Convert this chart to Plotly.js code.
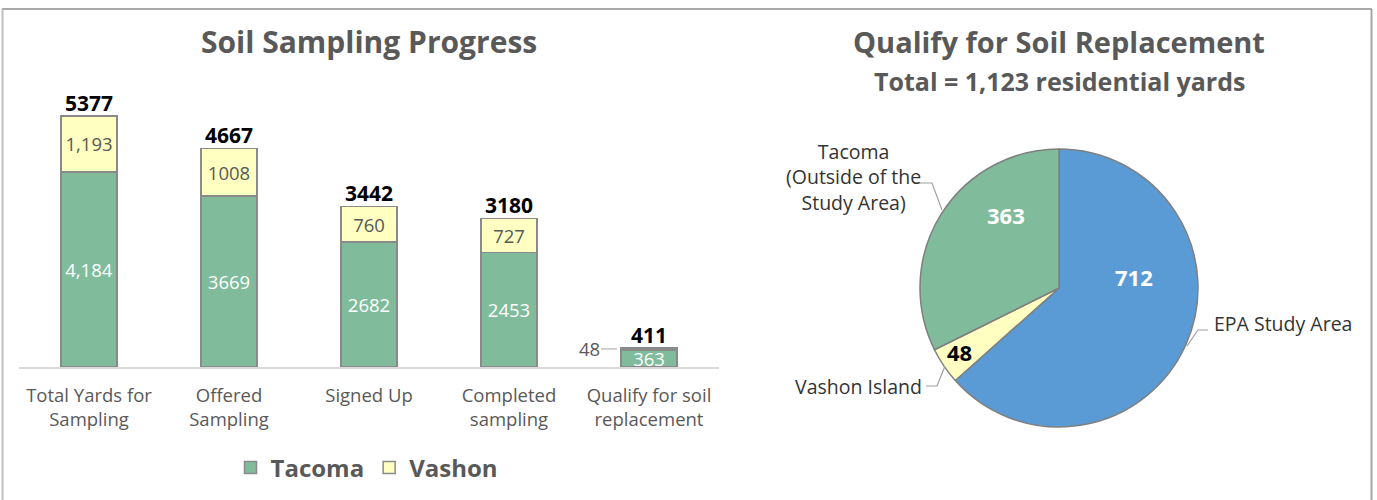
<!DOCTYPE html>
<html>
<head>
<meta charset="utf-8">
<script src="https://cdn.plot.ly/plotly-3.0.1.min.js"></script>
<style>html,body{margin:0;padding:0;background:#fff}#chart{width:1377px;height:500px}</style>
</head>
<body>
<div id="chart"></div>
<script>
// ---- data ----
const categories = ["Total Yards for<br>Sampling", "Offered<br>Sampling", "Signed Up", "Completed<br>sampling", "Qualify for soil<br>replacement"];
const tacomaValues = [4184, 3669, 2682, 2453, 363];
const tacomaLabels = ["4,184", "3669", "2682", "2453", "363"];
const vashonValues = [1193, 1008, 760, 727, 48];
const vashonLabels = ["1,193", "1008", "760", "727", "48"];
const totalLabels = ["5377", "4667", "3442", "3180", "411"];

const pieLabels = ["EPA Study Area", "Vashon Island", "Tacoma<br>(Outside of the<br>Study Area)"];
const pieValues = [712, 48, 363];

// ---- helpers (pixel -> paper) ----
const W = 1377, H = 500;
const px = x => x / W;
const py = y => 1 - y / H;

const FONT = "'Open Sans', Lato, sans-serif";
const GREEN = "#80BC9C", YELLOW = "#FFFFC2", BLUE = "#5B9BD5";
const GRAY_TXT = "#595959";

const stackTop = tacomaValues.map((v, i) => v + vashonValues[i]);

const traces = [
  {
    type: "bar", name: "Tacoma", x: categories, y: tacomaValues,
    text: tacomaLabels, textposition: "inside", insidetextanchor: "middle",
    constraintext: "none",
    textfont: {family: FONT, size: 18.5, color: "#ffffff"},
    marker: {color: GREEN, line: {color: "#8a8a8a", width: 1.5}},
    hoverinfo: "none"
  },
  {
    type: "bar", name: "Vashon", x: categories, y: vashonValues,
    text: vashonLabels.map((t, i) => i === vashonLabels.length - 1 ? "" : t),
    textposition: "inside", insidetextanchor: "middle", constraintext: "none",
    textfont: {family: FONT, size: 18.5, color: GRAY_TXT},
    marker: {color: YELLOW, line: {color: "#8a8a8a", width: 1.5}},
    hoverinfo: "none"
  },
  {
    type: "scatter", mode: "text", x: categories, y: stackTop,
    text: totalLabels.map(t => "<b>" + t + "</b>"), textposition: "top center",
    textfont: {family: FONT, size: 21, color: "#000000"},
    showlegend: false, hoverinfo: "none", cliponaxis: false
  },
  {
    type: "pie", labels: pieLabels, values: pieValues,
    sort: false, direction: "clockwise", rotation: 0,
    textinfo: "none",
    marker: {colors: [BLUE, YELLOW, GREEN], line: {color: "#7f7f7f", width: 1.5}},
    domain: {x: [px(920), px(1198)], y: [py(427), py(149)]},
    showlegend: false, hoverinfo: "none"
  }
];

const ann = (x, y, text, size, color, xanchor, extra) => Object.assign({
  xref: "paper", yref: "paper", x: px(x), y: py(y), text: text, showarrow: false,
  xanchor: xanchor || "center", yanchor: "middle",
  font: {family: FONT, size: size, color: color}
}, extra || {});

// pie value labels
const pieValPos = [[1134, 277], [959, 352], [1006, 215]];
const pieValColor = ["#ffffff", "#000000", "#ffffff"];
const annotations = pieValues.map((v, i) =>
  ann(pieValPos[i][0], pieValPos[i][1], "<b>" + v + "</b>", 22, pieValColor[i]));

// pie category labels
annotations.push(
  ann(1212, 323, pieLabels[0], 19.5, "#333333", "left"),
  ann(924, 386, pieLabels[1], 19.5, "#333333", "right"),
  ann(853, 177, pieLabels[2], 19.5, "#333333", "center")
);

// small vashon label on last bar
annotations.push({
  x: 3.8, y: tacomaValues[4] + vashonValues[4] / 2, xref: "x", yref: "y",
  text: vashonLabels[4], showarrow: true, arrowhead: 0, arrowwidth: 1, arrowcolor: "#a0a0a0",
  ax: -32, ay: 0, standoff: 4, font: {family: FONT, size: 18.5, color: GRAY_TXT}
});

// titles
annotations.push(
  ann(369, 42, "<b>Soil Sampling Progress</b>", 30, GRAY_TXT),
  ann(1059, 42, "<b>Qualify for Soil Replacement</b>", 29, GRAY_TXT),
  ann(1059, 81, "<b>Total = 1,123 residential yards</b>", 25, GRAY_TXT)
);

const line = (x0, y0, x1, y1, color, width) => ({
  type: "line", xref: "paper", yref: "paper", x0: px(x0), y0: py(y0), x1: px(x1), y1: py(y1),
  line: {color: color, width: width}
});
const pathShape = (pts, color) => ({
  type: "path", xref: "paper", yref: "paper",
  path: pts.map((p, i) => (i ? "L" : "M") + px(p[0]) + "," + py(p[1])).join(" "),
  line: {color: color, width: 1.2}
});

const shapes = [
  line(2, 9, 1372, 9, "#8c8c8c", 1.5),
  line(2.5, 9, 2.5, 500, "#c0c0c0", 2),
  line(1371.5, 9, 1371.5, 500, "#a6a6a6", 2),
  pathShape([[918, 183], [932, 183], [942, 210]], "#a0a0a0"),
  pathShape([[926, 386], [937, 386], [945, 366]], "#a0a0a0"),
  pathShape([[1208, 330], [1198, 330], [1187, 346]], "#a0a0a0")
];

const layout = {
  width: W, height: H,
  margin: {l: 0, r: 0, t: 0, b: 0},
  paper_bgcolor: "#ffffff", plot_bgcolor: "#ffffff",
  barmode: "stack", bargap: 0.6,
  font: {family: FONT, color: GRAY_TXT},
  xaxis: {
    type: "category", domain: [px(19), px(719)],
    showline: true, linecolor: "#d9d9d9", linewidth: 1.5,
    showgrid: false, zeroline: false, ticks: "", ticklabelstandoff: 11,
    tickfont: {family: FONT, size: 18.5, color: GRAY_TXT}, fixedrange: true
  },
  yaxis: {
    domain: [py(367), py(87)], range: [0, 6000], visible: false, fixedrange: true
  },
  showlegend: true,
  legend: {
    orientation: "h", x: px(367), xanchor: "center", y: py(468), yanchor: "middle",
    font: {family: FONT, size: 24, color: GRAY_TXT, weight: "bold"},
    itemwidth: 30, traceorder: "normal"
  },
  annotations: annotations,
  shapes: shapes
};

Plotly.newPlot("chart", traces, layout, {displayModeBar: false, staticPlot: true});
</script>
</body>
</html>
